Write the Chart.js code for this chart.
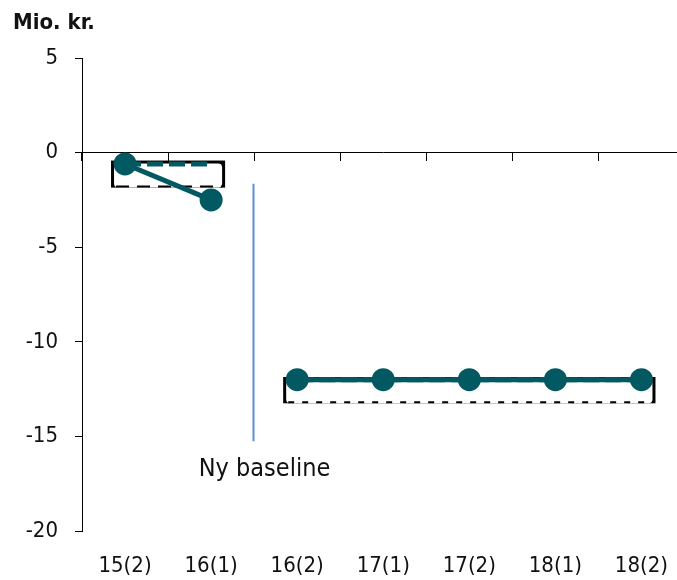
<!DOCTYPE html>
<html lang="da">
<head>
<meta charset="UTF-8">
<title>Mio. kr.</title>
<style>
  html, body { margin: 0; padding: 0; background: #fff; overflow: hidden; }
  #wrap { width: 677px; height: 580px; overflow: hidden; }
  canvas { display: block; }
</style>
</head>
<body>
<div id="wrap"><canvas id="chart" width="696" height="580"></canvas></div>
<script src="https://cdn.jsdelivr.net/npm/chart.js"></script>
<script>
// categories and values
const labels = ['15(2)', '16(1)', '16(2)', '17(1)', '17(2)', '18(1)', '18(2)'];
const actual = [-0.6, -2.5, -12, -12, -12, -12, -12];
const estimate = [-0.6, -0.6, -12, -12, -12, -12, -12];
const bandTop = [-0.42, -0.42, -11.86, -11.86, -11.86, -11.86, -11.86];
const bandBottom = [-1.85, -1.85, -13.25, -13.25, -13.25, -13.25, -13.25];
const yMin = -20, yMax = 5, yStep = 5;
const breakAfter = 1;            // new baseline between 16(1) and 16(2)
const baselineSpan = [-1.65, -15.25];
const baselineText = 'Ny baseline';

const teal = '#025962';
const font = "'DejaVu Sans Condensed', 'DejaVu Sans', sans-serif";

// skip the segment that crosses the new baseline
const skipBreak = ctx => ctx.p0DataIndex === breakAfter ? 'transparent' : undefined;

const overlay = {
    id: 'overlay',
    beforeDatasetsDraw(chart) {
        const { ctx, scales: { x, y } } = chart;
        const runs = [[0, breakAfter], [breakAfter + 1, labels.length - 1]];
        ctx.save();
        runs.forEach(([a, b], i) => {
            const x0 = x.getPixelForValue(a) - 14;
            const x1 = x.getPixelForValue(b) + 14;
            const y0 = y.getPixelForValue(bandTop[a]);
            const y1 = y.getPixelForValue(bandBottom[a]);
            ctx.fillStyle = '#000';
            ctx.fillRect(x0, y0, x1 - x0, y1 - y0);
            ctx.fillStyle = '#fff';
            ctx.beginPath();
            ctx.roundRect(x0 + 3, y0 + 3, x1 - x0 - 6, y1 - y0 - 3, 4);
            ctx.fill();
            ctx.strokeStyle = '#000';
            ctx.lineWidth = 2;
            ctx.setLineDash(i === 0 ? [13, 8] : [6, 8]);
            ctx.beginPath();
            ctx.moveTo(x0 + 5, y1 - 1);
            ctx.lineTo(x1 - 3, y1 - 1);
            ctx.stroke();
            ctx.setLineDash([]);
        });
        // new baseline marker
        const bx = Math.round(x.getPixelForValue(breakAfter + 0.5)) - 0.5;
        const by0 = y.getPixelForValue(baselineSpan[0]);
        const by1 = y.getPixelForValue(baselineSpan[1]);
        ctx.strokeStyle = '#5b8fd6';
        ctx.lineWidth = 2;
        ctx.beginPath();
        ctx.moveTo(bx, by0);
        ctx.lineTo(bx, by1);
        ctx.stroke();
        ctx.fillStyle = '#111';
        ctx.font = '25px ' + font;
        ctx.textAlign = 'center';
        ctx.textBaseline = 'middle';
        ctx.fillText(baselineText, bx + 11, by1 + 28);
        ctx.restore();
    }
};

new Chart(document.getElementById('chart'), {
    type: 'line',
    data: {
        labels: labels,
        datasets: [
            {
                label: 'Faktisk',
                data: actual,
                borderColor: teal,
                borderWidth: 5,
                pointRadius: 11.5,
                pointBackgroundColor: teal,
                pointBorderWidth: 0,
                segment: { borderColor: skipBreak },
                xAxisID: 'x',
                yAxisID: 'y'
            },
            {
                label: 'Skøn',
                data: estimate,
                borderColor: teal,
                borderWidth: 5,
                borderDash: [16, 6],
                pointRadius: 0,
                segment: { borderColor: skipBreak },
                xAxisID: 'x',
                yAxisID: 'y'
            }
        ]
    },
    options: {
        responsive: false,
        animation: false,
        layout: { padding: { left: 13, right: 0, top: 0, bottom: 0 } },
        plugins: {
            legend: { display: false },
            tooltip: { enabled: false },
            title: {
                display: true,
                text: 'Mio. kr.',
                align: 'start',
                color: '#111',
                font: { family: font, size: 22, weight: 'bold', lineHeight: 1.2 },
                padding: { top: 10, bottom: 21.6 }
            }
        },
        scales: {
            x: {
                type: 'category',
                position: 'bottom',
                offset: true,
                grid: { display: false, drawTicks: false },
                border: { display: false },
                ticks: { color: '#111', font: { family: font, size: 22 }, padding: 22, maxRotation: 0 },
                afterFit(scale) { scale.height = 49; }
            },
            x2: {
                type: 'category',
                labels: labels,
                position: { y: 0 },
                offset: true,
                grid: { offset: true, drawOnChartArea: false, tickLength: 8, color: '#000' },
                border: { color: '#000', width: 1 },
                ticks: { display: false },
                afterFit(scale) { scale.height = 0; }
            },
            y: {
                min: yMin,
                max: yMax,
                ticks: { stepSize: yStep, color: '#111', font: { family: font, size: 22 }, padding: 17 },
                grid: { drawOnChartArea: false, tickLength: 7, color: '#000' },
                border: { color: '#000', width: 1 },
                afterFit(scale) { scale.width = 69; }
            }
        }
    },
    plugins: [overlay]
});
</script>
</body>
</html>
